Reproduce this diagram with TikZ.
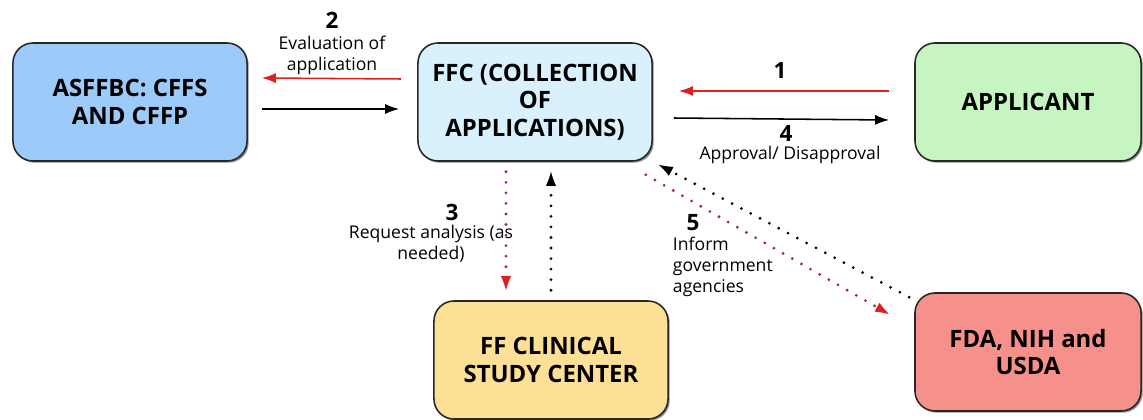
\documentclass[tikz,border=0pt]{standalone}
\usepackage{fontspec}
\setmainfont{Open Sans}
\usetikzlibrary{arrows.meta, positioning, shadows}

\definecolor{asfblue}{HTML}{9DCBF9}
\definecolor{ffcblue}{HTML}{D9F1FC}
\definecolor{appgreen}{HTML}{C6F5C2}
\definecolor{cliyellow}{HTML}{FDE095}
\definecolor{fdared}{HTML}{F6908A}
\definecolor{arrred}{HTML}{E0201E}
\definecolor{dotred}{HTML}{A0282A}

\tikzset{
    box/.style={draw=black!85, line width=1.1pt, rounded corners=0.5cm,
        minimum width=5.85cm, minimum height=2.95cm, align=center,
        font=\bfseries\fontsize{17}{19.5}\selectfont,
        drop shadow={shadow xshift=1.2pt, shadow yshift=-1.2pt, fill=black!55, opacity=0.8}},
    num/.style={font=\bfseries\fontsize{16}{18}\selectfont},
    lbl/.style={font=\fontsize{12.5}{15}\selectfont, align=center},
    redarr/.style={-{Latex[length=0.35cm, width=0.25cm]}, arrred, line width=1.1pt},
    blkarr/.style={-{Latex[length=0.35cm, width=0.25cm]}, black, line width=1.1pt},
    reddots/.style={-{Latex[length=0.35cm, width=0.25cm, color=arrred, line width=0pt]}, dotred, line width=2.2pt,
        line cap=round, dash pattern=on 0pt off 7.5pt},
    blkdots/.style={-{Latex[length=0.35cm, width=0.25cm, line width=0pt]}, black, line width=2.2pt,
        line cap=round, dash pattern=on 0pt off 7.5pt}
}

\begin{document}
\begin{tikzpicture}[x=0.025cm, y=-0.025cm]
    \useasboundingbox (0,0) rectangle (1143,420);

    % boxes
    \node[box, fill=asfblue] (asf) at (130,102) {ASFFBC: CFFS\\AND CFFP};
    \node[box, fill=ffcblue] (ffc) at (535,102) {FFC (COLLECTION\\OF\\APPLICATIONS)};
    \node[box, fill=appgreen, minimum width=5.65cm] (app) at (1028,102) {APPLICANT};
    \node[box, fill=cliyellow] (cli) at (551,360) {FF CLINICAL\\STUDY CENTER};
    \node[box, fill=fdared, minimum width=5.65cm] (fda) at (1028,352) {FDA, NIH and\\USDA};

    % 1 and 4
    \draw[redarr] ([xshift=-0.625cm, yshift=0.275cm]app.west) -- ([xshift=0.65cm, yshift=0.275cm]ffc.east);
    \draw[blkarr] ([xshift=0.525cm, yshift=-0.4cm]ffc.east) -- ([xshift=-0.625cm, yshift=-0.45cm]app.west);
    \node[num] (n1) at (780,70) {1};
    \node[num] (n4) at (786,133) {4};
    \node[lbl] (l4) at (790,155) {Approval/ Disapproval};

    % 2
    \draw[redarr] ([xshift=-0.4cm, yshift=0.575cm]ffc.west) -- ([xshift=0.35cm, yshift=0.6cm]asf.east);
    \draw[blkarr] ([xshift=0.35cm, yshift=-0.175cm]asf.east) -- ([xshift=-0.45cm, yshift=-0.175cm]ffc.west);
    \node[num] (n2) at (332,20) {2};
    \node[lbl] (l2) at (332,55) {Evaluation of\\application};

    % 3
    \draw[reddots] ([xshift=-0.725cm, yshift=-0.25cm]ffc.south) -- ([xshift=-1.125cm, yshift=0.25cm]cli.north);
    \draw[blkdots] ([yshift=0.25cm]cli.north) -- ([xshift=0.4cm, yshift=-0.25cm]ffc.south);
    \node[num] (n3) at (452,212) {3};
    \node[lbl] (l3) at (431,244) {Request analysis (as\\needed)};

    % 5
    \draw[reddots] ([xshift=-0.175cm, yshift=-0.325cm]ffc.south east) -- ([xshift=-0.625cm, yshift=-0.55cm]fda.north west);
    \draw[blkdots] ([xshift=-0.125cm, yshift=-0.125cm]fda.north west) -- ([xshift=0.15cm, yshift=-0.075cm]ffc.south east);
    \node[num] (n5) at (693,223) {5};
    \node[lbl, align=left, anchor=west] (l5) at (668,267) {Inform\\government\\agencies};
\end{tikzpicture}
\end{document}
